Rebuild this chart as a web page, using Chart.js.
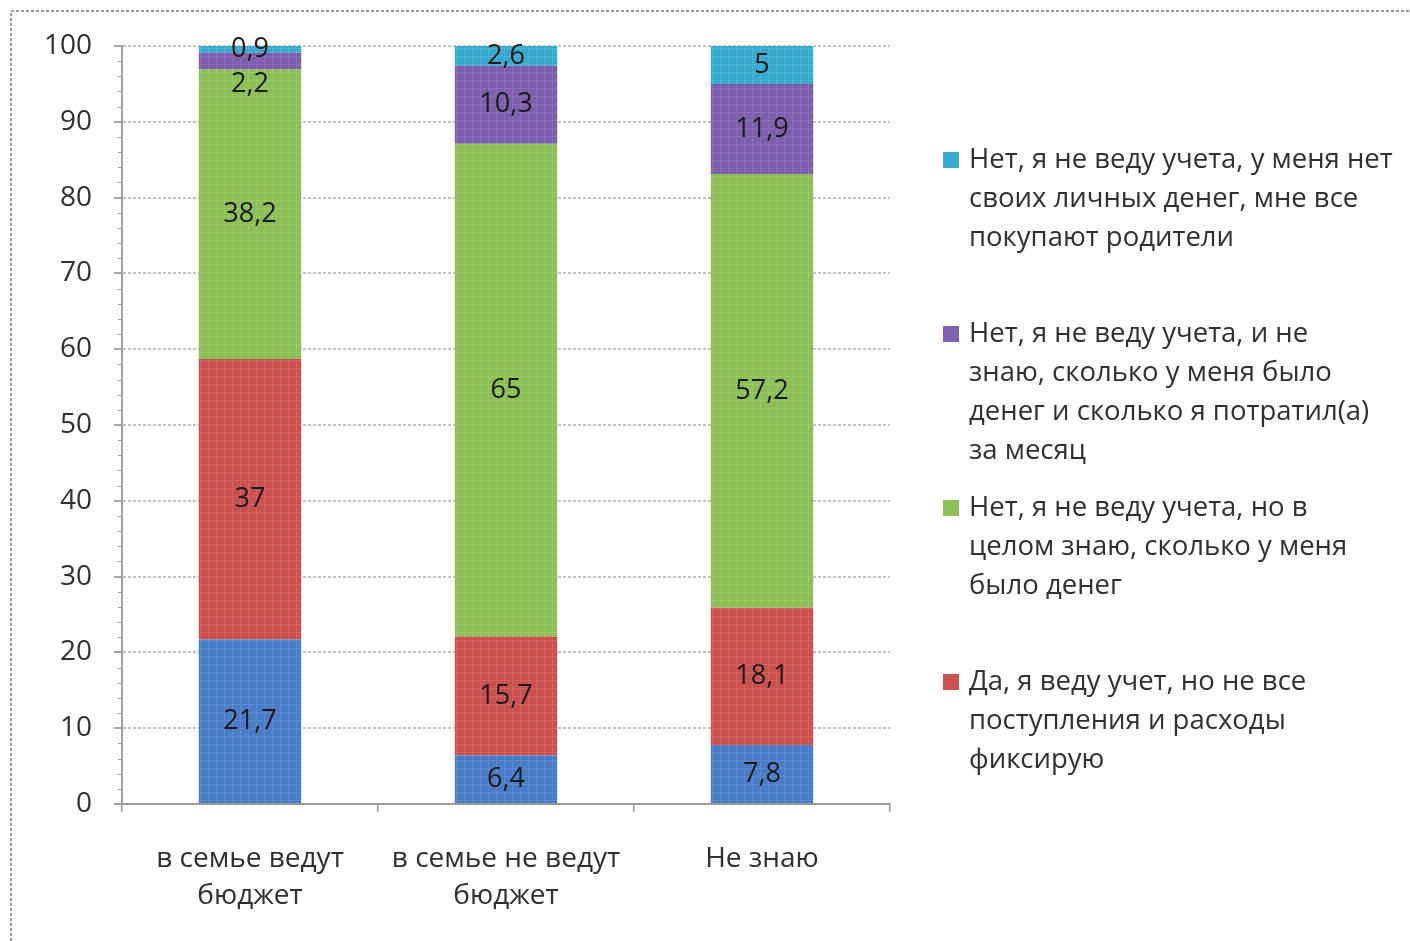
<!DOCTYPE html>
<html>
<head>
<meta charset="utf-8">
<script src="https://cdn.jsdelivr.net/npm/chart.js@4/dist/chart.umd.min.js"></script>
<style>
  html, body { margin: 0; padding: 0; background: #fff; }
  #wrap { position: relative; width: 1410px; height: 941px; }
</style>
</head>
<body>
<div id="wrap"><canvas id="c" width="1410" height="941"></canvas></div>
<script>
// Categories (x axis) and tick range
const categories = [["в семье ведут", "бюджет"], ["в семье не ведут", "бюджет"], "Не знаю"];
const yTicks = [0, 10, 20, 30, 40, 50, 60, 70, 80, 90, 100];

// Series values, bottom to top of each stack
const keepFull   = [21.7, 6.4, 7.8];
const keepPart   = [37, 15.7, 18.1];
const knowRoughly = [38.2, 65, 57.2];
const dontKnow   = [2.2, 10.3, 11.9];
const noMoney    = [0.9, 2.6, 5];

// Series names
const labelKeepFull = ["Да, я веду учет всех поступлений и расходов"];
const labelKeepPart = ["Да, я веду учет, но не все", "поступления и расходы", "фиксирую"];
const labelKnowRoughly = ["Нет, я не веду учета, но в", "целом знаю, сколько у меня", "было денег"];
const labelDontKnow = ["Нет, я не веду учета, и не", "знаю, сколько у меня было", "денег и сколько я потратил(а)", "за месяц"];
const labelNoMoney = ["Нет, я не веду учета, у меня нет", "своих личных денег, мне все", "покупают родители"];

const FONT = "'Open Sans', Lato, sans-serif";
const TEXT = '#303030';

// Dotted texture fill used for the bar segments
function makePattern(base, light, dark) {
  const t = document.createElement('canvas');
  t.width = 8; t.height = 8;
  const g = t.getContext('2d');
  g.fillStyle = base; g.fillRect(0, 0, 8, 8);
  g.fillStyle = light;
  for (let i = 0; i < 8; i += 2) { g.fillRect(i, 0, 1, 1); g.fillRect(0, i, 1, 1); }
  g.fillStyle = dark;
  g.fillRect(4, 4, 1, 1); g.fillRect(2, 6, 1, 1); g.fillRect(6, 2, 1, 1);
  return g.createPattern(t, 'repeat');
}

const fills = {
  blue:   makePattern('#4a7ec8', '#6a97d8', '#3d6cb0'),
  red:    makePattern('#cb5250', '#dc7468', '#b84440'),
  green:  makePattern('#8ec05a', '#a6cf6e', '#7eae4c'),
  purple: makePattern('#7f60ae', '#9a7cc4', '#6d4f9a'),
  cyan:   makePattern('#3aabd0', '#5cc0dc', '#2f97bb')
};
const swatch = { blue: '#4a7ec8', red: '#cb5250', green: '#8ec05a', purple: '#7f60ae', cyan: '#3aabd0' };

const datasets = [
  { label: labelKeepFull.join(' '), lines: labelKeepFull, data: keepFull, backgroundColor: fills.blue, swatch: swatch.blue, inLegend: false },
  { label: labelKeepPart.join(' '), lines: labelKeepPart, data: keepPart, backgroundColor: fills.red, swatch: swatch.red, inLegend: true },
  { label: labelKnowRoughly.join(' '), lines: labelKnowRoughly, data: knowRoughly, backgroundColor: fills.green, swatch: swatch.green, inLegend: true },
  { label: labelDontKnow.join(' '), lines: labelDontKnow, data: dontKnow, backgroundColor: fills.purple, swatch: swatch.purple, inLegend: true },
  { label: labelNoMoney.join(' '), lines: labelNoMoney, data: noMoney, backgroundColor: fills.cyan, swatch: swatch.cyan, inLegend: true }
].map(d => Object.assign(d, { borderWidth: 0, barPercentage: 0.4, categoryPercentage: 1.0 }));

const fmt = v => String(v).replace('.', ',');

// Dashed frame around the whole figure
const framePlugin = {
  id: 'frame',
  beforeDraw(chart) {
    const ctx = chart.ctx;
    ctx.save();
    ctx.strokeStyle = '#9a9a9a';
    ctx.lineWidth = 2;
    ctx.setLineDash([3, 2]);
    ctx.beginPath();
    ctx.moveTo(11, 941); ctx.lineTo(11, 11); ctx.lineTo(1410, 11);
    ctx.stroke();
    ctx.restore();
  }
};

// Minor tick marks along the value axis
const minorTicks = {
  id: 'minorTicks',
  afterDraw(chart) {
    const y = chart.scales.y, x0 = chart.chartArea.left, ctx = chart.ctx;
    ctx.save();
    ctx.strokeStyle = '#a0a0a0';
    ctx.lineWidth = 1;
    for (let v = 0; v <= 100; v += 2) {
      if (v % 10 === 0) continue;
      const py = Math.round(y.getPixelForValue(v)) + 0.5;
      ctx.beginPath(); ctx.moveTo(x0 - 4, py); ctx.lineTo(x0, py); ctx.stroke();
    }
    ctx.restore();
  }
};

// Value labels centred in each segment, pushed down when they collide
const valueLabels = {
  id: 'valueLabels',
  afterDatasetsDraw(chart) {
    const ctx = chart.ctx;
    ctx.save();
    ctx.font = '27px ' + FONT;
    ctx.fillStyle = '#1a1a1a';
    ctx.textAlign = 'center';
    ctx.textBaseline = 'middle';
    const n = chart.data.labels.length;
    for (let i = 0; i < n; i++) {
      let prevY = -Infinity;
      for (let d = chart.data.datasets.length - 1; d >= 0; d--) {
        const el = chart.getDatasetMeta(d).data[i];
        let cy = (el.y + el.base) / 2;
        if (cy - prevY < 34) cy = prevY + 35;
        ctx.fillText(fmt(chart.data.datasets[d].data[i]), el.x, cy);
        prevY = cy;
      }
    }
    ctx.restore();
  }
};

// Legend at the right with wrapped entries, top series first
const sideLegend = {
  id: 'sideLegend',
  afterDraw(chart) {
    const ctx = chart.ctx;
    ctx.save();
    ctx.font = '27.5px ' + FONT;
    ctx.textBaseline = 'middle';
    ctx.textAlign = 'left';
    const items = chart.data.datasets.filter(d => d.inLegend).slice().reverse();
    const x = 943, textX = 969, top = 160, step = 174, lh = 39;
    items.forEach((d, k) => {
      const y0 = top + k * step;
      ctx.fillStyle = d.swatch;
      ctx.fillRect(x, y0 - 8, 16, 16);
      ctx.fillStyle = TEXT;
      d.lines.forEach((ln, j) => ctx.fillText(ln, textX, y0 + j * lh));
    });
    ctx.restore();
  }
};

new Chart(document.getElementById('c'), {
  type: 'bar',
  data: { labels: categories, datasets },
  options: {
    responsive: false,
    animation: false,
    layout: { padding: { left: 0, top: 46, right: 520, bottom: 0 } },
    plugins: { legend: { display: false }, tooltip: { enabled: false } },
    scales: {
      x: {
        stacked: true,
        afterFit(s) { s.height = 137; },
        border: { color: '#9a9a9a', width: 2, dash: [3, 2] },
        grid: { offset: true, drawOnChartArea: false, drawTicks: true, tickLength: 8, color: '#9a9a9a', lineWidth: 1.5 },
        ticks: { color: TEXT, font: { family: FONT, size: 28, lineHeight: 1.32 }, padding: 29, maxRotation: 0 }
      },
      y: {
        stacked: true,
        min: 0, max: 100,
        afterFit(s) { s.width = 122; },
        afterBuildTicks(s) { s.ticks = yTicks.map(v => ({ value: v })); },
        border: { color: '#a0a0a0', width: 2, dash: [3, 2] },
        grid: { color: '#c4c4c4', lineWidth: 2, tickLength: 8, drawTicks: true, tickColor: '#a8a8a8' },
        ticks: { color: TEXT, font: { family: FONT, size: 28 }, padding: 22 }
      }
    }
  },
  plugins: [framePlugin, minorTicks, valueLabels, sideLegend]
});
</script>
</body>
</html>
